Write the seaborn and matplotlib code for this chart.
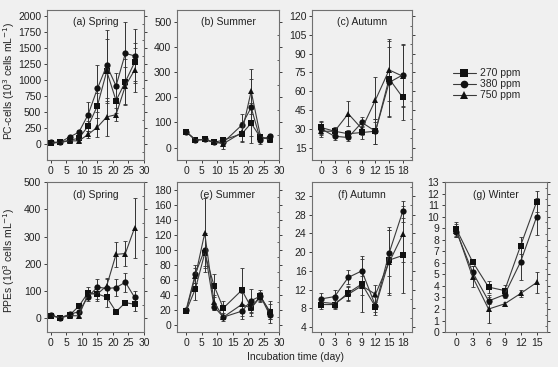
import numpy as np
import pandas as pd
import matplotlib
matplotlib.use("Agg")
import matplotlib.pyplot as plt
from matplotlib.ticker import AutoMinorLocator
from matplotlib.lines import Line2D
import seaborn as sns

# series names
series = ["270 ppm", "380 ppm", "750 ppm"]

# (a) Spring PC-cells
days_a = [0, 3, 6, 9, 12, 15, 18, 21, 24, 27]
a_270 = [20, 30, 60, 90, 280, 600, 1140, 680, 975, 1280]
a_380 = [25, 30, 110, 185, 460, 870, 1230, 910, 1420, 1380]
a_750 = [15, 25, 50, 50, 150, 265, 425, 460, 910, 1160]
a_270_err = [15, 10, 20, 30, 80, 200, 500, 200, 350, 300]
a_380_err = [15, 10, 20, 30, 200, 370, 560, 200, 490, 420]
a_750_err = [10, 10, 10, 20, 50, 150, 300, 100, 300, 350]

# (b) Summer PC-cells
days_b = [0, 3, 6, 9, 12, 18, 21, 24, 27]
b_270 = [63, 30, 32, 20, 30, 55, 97, 40, 35]
b_380 = [63, 30, 32, 20, 20, 90, 160, 30, 45]
b_750 = [63, 30, 32, 22, 15, 60, 225, 45, 30]
b_270_err = [5, 5, 5, 5, 10, 30, 80, 10, 10]
b_380_err = [5, 5, 5, 5, 10, 45, 115, 15, 10]
b_750_err = [5, 5, 5, 5, 20, 40, 90, 10, 10]

# (c) Autumn PC-cells
days_c = [0, 3, 6, 9, 12, 15, 18]
c_270 = [31, 28, 26, 27, 28, 70, 55]
c_380 = [30, 24, 23, 35, 28, 67, 73]
c_750 = [28, 28, 42, 30, 53, 77, 72]
c_270_err = [5, 3, 3, 5, 10, 30, 18]
c_380_err = [5, 3, 3, 4, 10, 28, 25]
c_750_err = [5, 2, 10, 5, 18, 25, 25]

# (d) Spring PPEs
d_270 = [10, 3, 12, 45, 95, 90, 78, 25, 58, 52]
d_380 = [12, 3, 15, 25, 80, 115, 110, 113, 133, 77]
d_750 = [10, 3, 10, 10, 90, 90, 120, 235, 238, 333]
d_270_err = [3, 2, 3, 8, 20, 25, 35, 10, 10, 25]
d_380_err = [3, 2, 3, 5, 15, 30, 35, 30, 35, 25]
d_750_err = [3, 2, 3, 5, 15, 20, 30, 45, 45, 110]

# (e) Summer PPEs
e_270 = [18, 48, 95, 52, 22, 46, 23, 38, 17]
e_380 = [20, 68, 100, 24, 10, 18, 32, 38, 13]
e_750 = [18, 65, 122, 30, 10, 27, 22, 37, 18]
e_270_err = [2, 15, 25, 15, 10, 30, 8, 8, 15]
e_380_err = [2, 12, 22, 5, 3, 10, 15, 5, 5]
e_750_err = [2, 10, 47, 10, 5, 15, 10, 5, 10]

# (f) Autumn PPEs
f_270 = [8.8, 8.8, 11.3, 13.2, 8.3, 18.3, 19.3]
f_380 = [10.0, 10.5, 14.6, 16.0, 8.5, 19.8, 28.7]
f_750 = [9.3, 9.0, 11.0, 12.8, 11.0, 17.8, 23.8]
f_270_err = [1, 1, 1.5, 6, 1, 7, 8]
f_380_err = [1.2, 1.5, 1.5, 2.5, 2, 5, 2.3]
f_750_err = [1, 1, 1.5, 2, 2, 7, 6]

# (g) Winter PPEs
days_g = [0, 3, 6, 9, 12, 15]
g_270 = [8.9, 6.1, 3.9, 3.6, 7.5, 11.3]
g_380 = [8.7, 5.2, 2.7, 3.25, 6.1, 10.0]
g_750 = [8.8, 4.8, 2.0, 2.45, 3.35, 4.3]
g_270_err = [0.6, 0.2, 0.5, 0.5, 0.7, 0.9]
g_380_err = [0.5, 0.5, 0.3, 0.3, 1.6, 1.6]
g_750_err = [0.6, 0.9, 1.2, 0.15, 0.3, 0.9]

bg = "#f0f0f0"
fs = 7.5
sns.set_theme(style="ticks")
plt.rcParams["font.family"] = ["Liberation Sans", "DejaVu Sans"]
plt.rcParams["font.size"] = fs

markers = {"270 ppm": "s", "380 ppm": "o", "750 ppm": "^"}

fig = plt.figure(figsize=(5.58, 3.67), dpi=100, facecolor=bg)

def panel(rect, days, vals, errs, title, xlim, ylim, xticks, yticks):
    ax = fig.add_axes(rect, facecolor=bg)
    rows = []
    for s, v, e in zip(series, vals, errs):
        ax.errorbar(days, v, yerr=e, fmt="none", ecolor="#333333",
                    elinewidth=0.7, capsize=1.2, capthick=0.6, zorder=1)
        for d, y in zip(days, v):
            rows.append({"day": d, "val": y, "CO2": s})
    df = pd.DataFrame(rows)
    sns.lineplot(data=df, x="day", y="val", hue="CO2", style="CO2",
                 palette=["#111111"] * 3, markers=markers, dashes=False,
                 markersize=4.5, linewidth=0.8, markeredgewidth=0,
                 legend=False, ax=ax, zorder=2)
    for ln in ax.lines:
        ln.set_color("#3a3a3a")
        ln.set_markerfacecolor("#111111")
    ax.set_xlim(*xlim)
    ax.set_ylim(*ylim)
    ax.set_xticks(xticks)
    ax.set_yticks(yticks)
    ax.set_xlabel("")
    ax.set_ylabel("")
    ax.yaxis.set_minor_locator(AutoMinorLocator(2))
    ax.tick_params(which="major", direction="out", length=2.5, width=0.6,
                   labelsize=fs, pad=1.5, colors="#222222", right=True)
    ax.tick_params(which="minor", left=False, right=True, direction="in",
                   length=1.5, width=0.5)
    ax.tick_params(axis="y", which="both", right=True)
    for sp in ax.spines.values():
        sp.set_color("#707070")
        sp.set_linewidth(0.8)
    ax.text(0.5, 0.95, title, transform=ax.transAxes, ha="center", va="top",
            fontsize=fs, color="#222222")
    return ax

top_b, bot_b, h = 0.564, 0.095, 0.409
cols = [(0.084, 0.174), (0.317, 0.183), (0.559, 0.179), (0.797, 0.183)]

panel([cols[0][0], top_b, cols[0][1], h], days_a, [a_270, a_380, a_750],
      [a_270_err, a_380_err, a_750_err], "(a) Spring", (-1.3, 30), (-250, 2100),
      range(0, 31, 5), range(0, 2001, 250))
panel([cols[1][0], top_b, cols[1][1], h], days_b, [b_270, b_380, b_750],
      [b_270_err, b_380_err, b_750_err], "(b) Summer", (-3, 30), (-50, 550),
      range(0, 31, 5), range(0, 501, 100))
panel([cols[2][0], top_b, cols[2][1], h], days_c, [c_270, c_380, c_750],
      [c_270_err, c_380_err, c_750_err], "(c) Autumn", (-2, 20), (5, 125),
      range(0, 19, 3), range(15, 121, 15))
panel([cols[0][0], bot_b, cols[0][1], h], days_a, [d_270, d_380, d_750],
      [d_270_err, d_380_err, d_750_err], "(d) Spring", (-1.3, 30), (-50, 500),
      range(0, 31, 5), range(0, 501, 100))
panel([cols[1][0], bot_b, cols[1][1], h], days_b, [e_270, e_380, e_750],
      [e_270_err, e_380_err, e_750_err], "(e) Summer", (-3, 30), (-10, 190),
      range(0, 31, 5), range(0, 181, 20))
panel([cols[2][0], bot_b, cols[2][1], h], days_c, [f_270, f_380, f_750],
      [f_270_err, f_380_err, f_750_err], "(f) Autumn", (-2, 20), (2.9, 35),
      range(0, 19, 3), range(4, 33, 4))
panel([cols[3][0], bot_b, cols[3][1], h], days_g, [g_270, g_380, g_750],
      [g_270_err, g_380_err, g_750_err], "(g) Winter", (-2.2, 16.9), (0, 13),
      range(0, 16, 3), range(0, 14, 1))

fig.text(0.016, 0.78, "PC-cells (10$^3$ cells mL$^{-1}$)", rotation=90,
         ha="center", va="center", fontsize=fs, color="#222222")
fig.text(0.016, 0.29, "PPEs (10$^3$ cells mL$^{-1}$)", rotation=90,
         ha="center", va="center", fontsize=fs, color="#222222")
fig.text(0.53, 0.027, "Incubation time (day)", ha="center", va="center",
         fontsize=fs, color="#222222")

handles = [Line2D([], [], color="#3a3a3a", lw=0.8, marker=markers[s],
                  markerfacecolor="#111111", markersize=5.5,
                  markeredgewidth=0) for s in series]
fig.legend(handles, series, loc="center left", bbox_to_anchor=(0.795, 0.77),
           frameon=False, fontsize=fs, handlelength=2.2, handletextpad=0.4,
           labelspacing=0.1)

fig.savefig("out.png", dpi=100, facecolor=bg)
